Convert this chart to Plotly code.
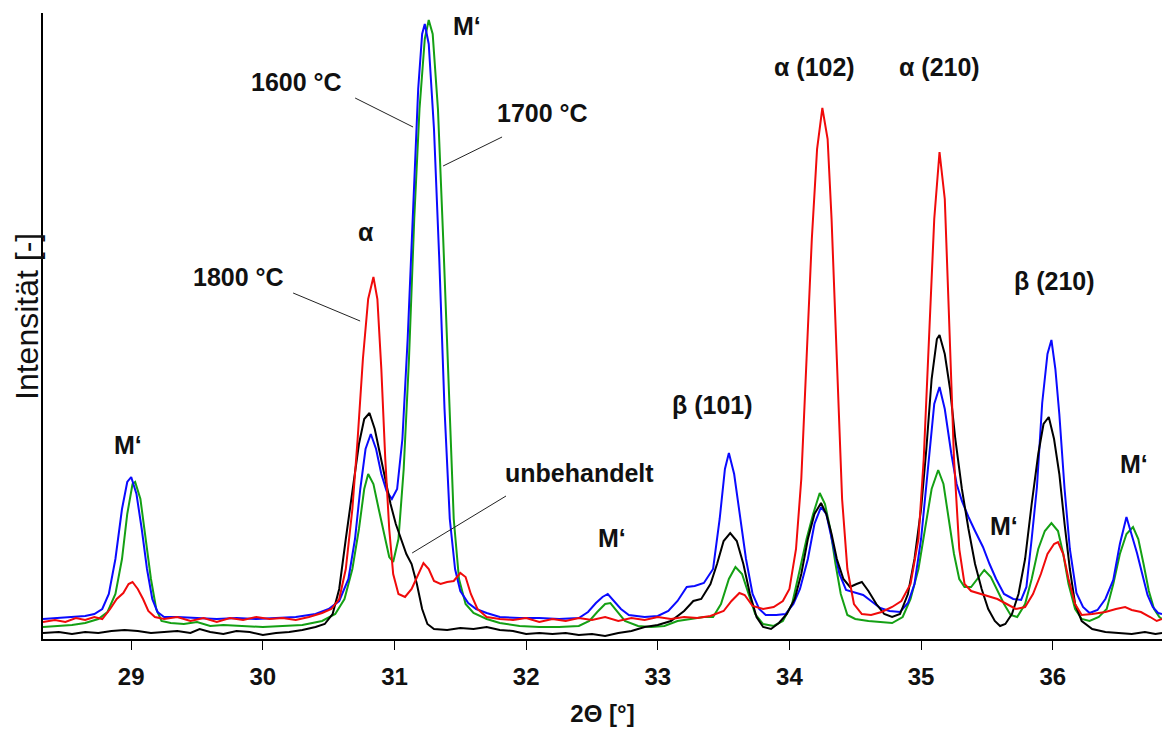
import plotly.graph_objects as go

# ---------------- data ----------------
two_theta_blue = [28.33, 28.45, 28.55, 28.65, 28.72, 28.78, 28.83, 28.88, 28.93, 28.97, 29.00, 29.04, 29.08, 29.12, 29.16, 29.20, 29.25, 29.35, 29.5, 29.65, 29.8, 29.95, 30.1, 30.25, 30.4, 30.5, 30.58, 30.65, 30.70, 30.74, 30.78, 30.82, 30.86, 30.90, 30.94, 30.98, 31.02, 31.06, 31.10, 31.14, 31.18, 31.21, 31.23, 31.26, 31.30, 31.34, 31.38, 31.42, 31.46, 31.50, 31.56, 31.62, 31.70, 31.80, 31.95, 32.1, 32.25, 32.4, 32.47, 32.53, 32.58, 32.62, 32.67, 32.72, 32.78, 32.9, 33.0, 33.08, 33.15, 33.22, 33.28, 33.35, 33.42, 33.47, 33.51, 33.54, 33.58, 33.62, 33.67, 33.72, 33.77, 33.82, 33.9, 33.97, 34.03, 34.08, 34.14, 34.19, 34.24, 34.28, 34.33, 34.38, 34.43, 34.5, 34.56, 34.62, 34.69, 34.76, 34.84, 34.9, 34.95, 35.00, 35.05, 35.10, 35.14, 35.18, 35.23, 35.27, 35.31, 35.36, 35.41, 35.47, 35.52, 35.57, 35.63, 35.70, 35.76, 35.80, 35.84, 35.88, 35.92, 35.96, 35.99, 36.02, 36.05, 36.09, 36.13, 36.18, 36.23, 36.28, 36.34, 36.40, 36.46, 36.51, 36.56, 36.60, 36.64, 36.68, 36.72, 36.76, 36.80, 36.83]
int_1600 = [20, 21, 22, 23, 25, 30, 45, 80, 130, 157, 162, 145, 110, 70, 40, 27, 22, 22, 21, 20, 21, 20, 21, 22, 25, 30, 38, 60, 100, 150, 190, 205, 190, 165, 148, 140, 150, 200, 300, 430, 550, 605, 615, 595, 510, 380, 230, 120, 70, 48, 36, 30, 26, 22, 21, 21, 20, 21, 27, 36, 42, 45, 38, 30, 24, 22, 23, 28, 38, 52, 53, 56, 70, 120, 170, 186, 165, 125, 80, 45, 30, 24, 24, 25, 35, 50, 80, 115, 132, 125, 95, 65, 49, 46, 44, 38, 31, 28, 27, 36, 55, 100, 170, 235, 252, 230, 185, 155, 138, 122, 108, 92, 75, 60, 45, 40, 39, 52, 100, 152, 236, 285, 299, 270, 225, 150, 90, 46, 32, 26, 29, 40, 59, 95, 122, 105, 86, 65, 44, 32, 26, 25]

two_theta_green = [28.33, 28.45, 28.55, 28.65, 28.75, 28.82, 28.88, 28.93, 28.97, 29.01, 29.03, 29.07, 29.11, 29.15, 29.19, 29.23, 29.3, 29.4, 29.5, 29.6, 29.7, 29.85, 30.0, 30.15, 30.3, 30.45, 30.55, 30.62, 30.68, 30.73, 30.77, 30.80, 30.84, 30.88, 30.92, 30.96, 30.99, 31.03, 31.07, 31.11, 31.15, 31.19, 31.23, 31.26, 31.29, 31.33, 31.37, 31.41, 31.45, 31.49, 31.54, 31.6, 31.7, 31.8, 31.95, 32.1, 32.25, 32.4, 32.48, 32.54, 32.60, 32.64, 32.69, 32.75, 32.85, 32.95, 33.05, 33.15, 33.25, 33.35, 33.42, 33.48, 33.54, 33.59, 33.64, 33.69, 33.74, 33.80, 33.88, 33.95, 34.02, 34.08, 34.13, 34.18, 34.23, 34.27, 34.31, 34.35, 34.39, 34.44, 34.5, 34.6, 34.7, 34.78, 34.86, 34.92, 34.98, 35.03, 35.08, 35.13, 35.17, 35.21, 35.25, 35.29, 35.33, 35.38, 35.43, 35.48, 35.53, 35.58, 35.63, 35.68, 35.73, 35.79, 35.84, 35.89, 35.94, 35.99, 36.04, 36.08, 36.12, 36.17, 36.22, 36.28, 36.35, 36.41, 36.46, 36.51, 36.56, 36.61, 36.65, 36.69, 36.73, 36.77, 36.81, 36.83]
int_1700 = [12, 13, 14, 16, 20, 27, 45, 80, 125, 155, 157, 140, 100, 60, 30, 18, 16, 15, 17, 13, 14, 13, 12, 13, 14, 18, 25, 40, 70, 110, 150, 165, 155, 130, 105, 82, 77, 100, 170, 280, 420, 530, 600, 619, 605, 530, 400, 250, 120, 60, 35, 26, 20, 16, 13, 12, 12, 13, 18, 27, 35, 36, 28, 18, 13, 12, 13, 18, 20, 22, 22, 35, 60, 72, 65, 45, 25, 15, 13, 18, 35, 70, 100, 125, 146, 135, 110, 75, 45, 24, 20, 18, 17, 16, 22, 40, 70, 110, 150, 169, 155, 120, 85, 60, 52, 52, 60, 69, 62, 48, 35, 24, 22, 35, 60, 90, 108, 116, 108, 85, 55, 30, 20, 18, 22, 30, 55, 85, 105, 112, 100, 75, 48, 30, 22, 20]

two_theta_red = [28.33, 28.42, 28.5, 28.58, 28.65, 28.72, 28.78, 28.84, 28.89, 28.94, 28.98, 29.01, 29.05, 29.09, 29.13, 29.18, 29.25, 29.35, 29.45, 29.55, 29.65, 29.75, 29.85, 29.95, 30.05, 30.15, 30.25, 30.35, 30.45, 30.52, 30.58, 30.63, 30.68, 30.72, 30.76, 30.80, 30.84, 30.87, 30.90, 30.93, 30.96, 30.99, 31.03, 31.08, 31.13, 31.18, 31.22, 31.26, 31.30, 31.35, 31.40, 31.45, 31.50, 31.54, 31.58, 31.63, 31.70, 31.8, 31.9, 32.0, 32.1, 32.2, 32.3, 32.4, 32.5, 32.6, 32.7, 32.8, 32.9, 33.0, 33.1, 33.2, 33.3, 33.4, 33.5, 33.56, 33.62, 33.66, 33.72, 33.8, 33.88, 33.95, 34.00, 34.05, 34.09, 34.13, 34.17, 34.21, 34.25, 34.29, 34.32, 34.36, 34.40, 34.44, 34.49, 34.55, 34.62, 34.7, 34.78, 34.85, 34.92, 34.98, 35.02, 35.06, 35.10, 35.14, 35.18, 35.21, 35.25, 35.29, 35.33, 35.38, 35.45, 35.52, 35.58, 35.65, 35.72, 35.79, 35.85, 35.91, 35.96, 36.01, 36.04, 36.08, 36.12, 36.17, 36.22, 36.3, 36.4, 36.48, 36.55, 36.6, 36.67, 36.74, 36.79, 36.83]
int_1800 = [17, 19, 17, 21, 19, 22, 20, 30, 40, 46, 55, 57, 50, 40, 28, 22, 20, 22, 18, 21, 17, 21, 19, 22, 20, 21, 19, 22, 26, 30, 40, 70, 130, 200, 280, 340, 362, 340, 270, 180, 110, 65, 45, 42, 50, 65, 76, 70, 58, 55, 57, 58, 66, 62, 45, 30, 22, 20, 19, 21, 17, 20, 18, 21, 19, 22, 18, 21, 19, 22, 20, 22, 21, 23, 28, 38, 46, 44, 33, 30, 32, 38, 50, 90, 160, 280, 400, 490, 531, 500, 420, 280, 140, 70, 35, 25, 24, 27, 32, 38, 55, 100, 180, 300, 420, 487, 440, 330, 180, 90, 55, 48, 45, 42, 40, 35, 30, 32, 45, 65, 85, 95, 97, 85, 60, 35, 24, 25, 27, 30, 32, 29, 27, 22, 18, 20]

two_theta_black = [28.33, 28.45, 28.55, 28.65, 28.75, 28.85, 28.95, 29.05, 29.15, 29.25, 29.35, 29.45, 29.52, 29.6, 29.7, 29.8, 29.9, 30.0, 30.1, 30.2, 30.3, 30.4, 30.47, 30.53, 30.58, 30.63, 30.68, 30.73, 30.77, 30.81, 30.85, 30.89, 30.93, 30.97, 31.01, 31.05, 31.09, 31.13, 31.17, 31.21, 31.25, 31.3, 31.4, 31.5, 31.6, 31.7, 31.8, 31.9, 32.0, 32.1, 32.2, 32.3, 32.4, 32.5, 32.6, 32.7, 32.8, 32.9, 33.0, 33.1, 33.2, 33.27, 33.33, 33.4, 33.45, 33.5, 33.55, 33.6, 33.65, 33.7, 33.75, 33.8, 33.86, 33.92, 33.98, 34.04, 34.09, 34.14, 34.19, 34.24, 34.28, 34.32, 34.36, 34.41, 34.46, 34.51, 34.55, 34.6, 34.66, 34.72, 34.78, 34.84, 34.9, 34.95, 35.0, 35.04, 35.08, 35.12, 35.14, 35.18, 35.22, 35.26, 35.31, 35.36, 35.41, 35.46, 35.51, 35.56, 35.6, 35.64, 35.69, 35.74, 35.79, 35.84, 35.89, 35.93, 35.97, 36.01, 36.05, 36.09, 36.13, 36.17, 36.22, 36.3, 36.4, 36.5, 36.6, 36.7, 36.78, 36.83]
int_untreated = [6, 7, 5, 7, 6, 8, 9, 8, 6, 7, 8, 6, 10, 7, 5, 8, 7, 4, 6, 7, 9, 12, 15, 25, 50, 100, 150, 195, 220, 226, 210, 185, 160, 135, 115, 100, 85, 75, 55, 30, 15, 10, 9, 11, 10, 12, 9, 8, 5, 6, 5, 6, 4, 5, 3, 6, 8, 12, 14, 18, 28, 38, 40, 55, 75, 98, 106, 98, 75, 45, 22, 12, 10, 16, 25, 40, 65, 100, 125, 136, 125, 105, 80, 60, 52, 55, 57, 48, 35, 25, 22, 25, 45, 80, 130, 190, 260, 300, 304, 285, 250, 200, 150, 110, 75, 50, 30, 18, 13, 15, 25, 45, 80, 135, 185, 215, 222, 200, 165, 115, 70, 35, 18, 10, 7, 6, 5, 7, 5, 6]

x_tick_values = [29, 30, 31, 32, 33, 34, 35, 36]
x_tick_labels = ["29", "30", "31", "32", "33", "34", "35", "36"]

# peak labels: (text, 2theta, intensity)
peak_label_text = ["M‘", "α", "M‘", "M‘", "β (101)", "α (102)", "α (210)", "M‘", "β (210)", "M‘"]
peak_label_x = [28.977, 30.784, 31.551, 32.652, 33.412, 34.194, 35.143, 35.629, 36.016, 36.616]
peak_label_y = [194, 407, 613, 101, 234, 572, 572, 113, 358, 175]

# curve labels with leader lines
curve_label_text = ["1800 °C", "1600 °C", "1700 °C", "unbehandelt"]
curve_label_x = [29.812, 30.253, 32.121, 32.409]
curve_label_y = [362, 557, 526, 166]
leader_x0 = [30.230, 30.701, 31.817, 31.847]
leader_y0 = [346, 541, 502, 143]
leader_x1 = [30.739, 31.141, 31.369, 31.134]
leader_y1 = [318, 512, 473, 86]

# ---------------- figure ----------------
FONT = "Liberation Sans, Arial, sans-serif"
fig = go.Figure()

series = [
    (two_theta_green, int_1700, "1700 °C", "#14a014"),
    (two_theta_blue, int_1600, "1600 °C", "#0a0aff"),
    (two_theta_black, int_untreated, "unbehandelt", "#000000"),
    (two_theta_red, int_1800, "1800 °C", "#f00a0a"),
]
for xs, ys, name, col in series:
    fig.add_trace(go.Scatter(x=xs, y=ys, mode="lines", name=name,
                             line=dict(color=col, width=2), hoverinfo="skip"))

annotations = []
for t, x, y in zip(peak_label_text, peak_label_x, peak_label_y):
    annotations.append(dict(x=x, y=y, xref="x", yref="y", text=t,
                            showarrow=False,
                            font=dict(family=FONT, size=25, color="#111", weight="bold")))
for t, x, y in zip(curve_label_text, curve_label_x, curve_label_y):
    annotations.append(dict(x=x, y=y, xref="x", yref="y", text=t,
                            showarrow=False,
                            font=dict(family=FONT, size=25, color="#111", weight="bold")))
annotations.append(dict(x=-0.0143, y=0.516, xref="paper", yref="paper",
                        xanchor="center", yanchor="middle",
                        text="Intensität [-]", textangle=-90, showarrow=False,
                        font=dict(family=FONT, size=32, color="#111")))

shapes = []
for a, b, c, d in zip(leader_x0, leader_y0, leader_x1, leader_y1):
    shapes.append(dict(type="line", xref="x", yref="y", x0=a, y0=b, x1=c, y1=d,
                       line=dict(color="#222", width=1)))

fig.update_layout(
    width=1162, height=731,
    margin=dict(l=43, r=0, t=13, b=92),
    paper_bgcolor="white", plot_bgcolor="white",
    showlegend=False,
    annotations=annotations,
    shapes=shapes,
    xaxis=dict(range=[28.33, 36.83], tickvals=x_tick_values, ticktext=x_tick_labels,
               showgrid=False, zeroline=False, showline=True, linecolor="black", linewidth=2,
               ticks="outside", ticklen=9, tickwidth=1, tickcolor="black",
               ticklabelstandoff=6,
               tickfont=dict(family=FONT, size=24, color="#111", weight="bold"),
               title=dict(text="2Θ [°]", standoff=16,
                          font=dict(family=FONT, size=24, color="#111", weight="bold"))),
    yaxis=dict(range=[0, 626], showgrid=False, zeroline=False, showline=True, linecolor="black",
               linewidth=2, showticklabels=False, ticks=""),
)

fig.write_html("out.html", config={"displayModeBar": False},
               post_script="document.body.style.margin='0';document.body.style.overflow='hidden';")
